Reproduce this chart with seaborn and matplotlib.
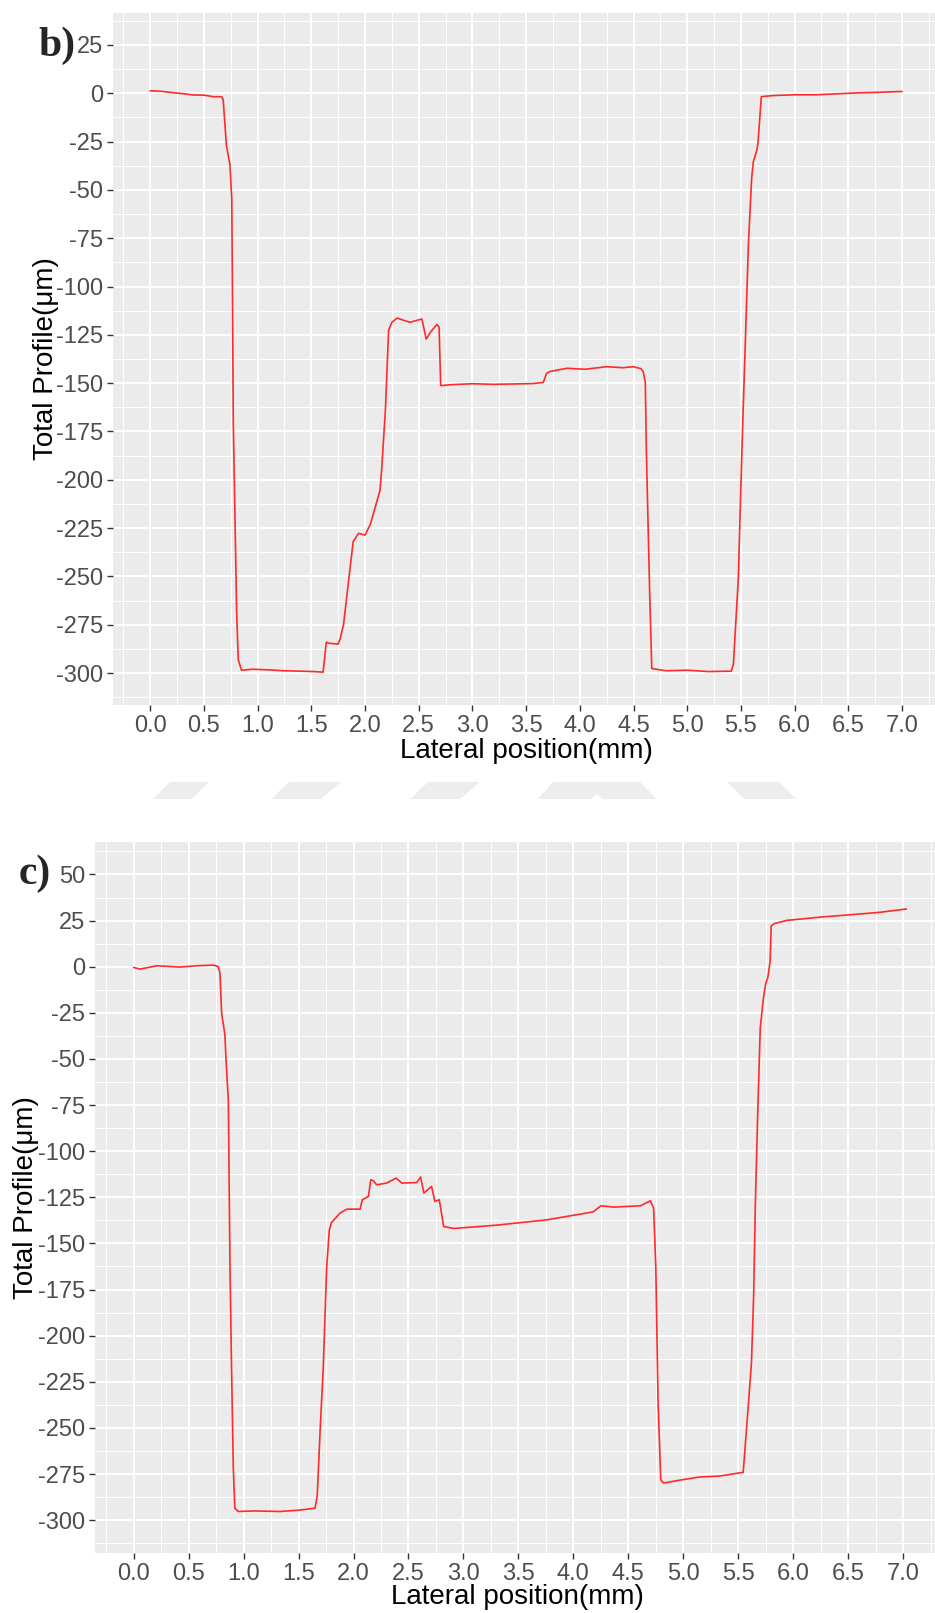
import numpy as np
import pandas as pd
import matplotlib
matplotlib.use("Agg")
import matplotlib.pyplot as plt
from matplotlib.ticker import MultipleLocator
from matplotlib.patches import Polygon
import seaborn as sns

# profile b) - lateral position (mm) vs total profile (um)
x_b = [0.00, 0.10, 0.21, 0.30, 0.40, 0.50, 0.59, 0.665, 0.68, 0.71,
       0.743, 0.76, 0.774, 0.805, 0.82, 0.85, 0.95, 1.10, 1.25, 1.40,
       1.52, 1.61, 1.64, 1.66, 1.75, 1.77, 1.80, 1.89, 1.94, 2.00,
       2.05, 2.14, 2.155, 2.19, 2.22, 2.25, 2.30, 2.36, 2.42, 2.53,
       2.57, 2.61, 2.67, 2.69, 2.705, 2.80, 3.00, 3.20, 3.40, 3.57,
       3.66, 3.69, 3.72, 3.88, 4.05, 4.25, 4.40, 4.50, 4.57, 4.59,
       4.61, 4.62, 4.65, 4.67, 4.80, 5.00, 5.20, 5.41, 5.43, 5.476,
       5.51, 5.54, 5.57, 5.60, 5.615, 5.65, 5.66, 5.69, 5.80, 6.00,
       6.20, 6.40, 6.60, 6.80, 7.00]
y_b = [1.3, 1.0, 0.3, -0.2, -0.9, -1.0, -1.8, -1.8, -3.5, -27,
       -37, -55, -170, -268, -293, -298.5, -298, -298.3, -298.8, -299,
       -299.2, -299.5, -284, -284.5, -285, -282, -275, -232, -227.7, -228.6,
       -223, -205.5, -195, -164, -122.7, -118.5, -116.3, -117.5, -118.5, -116.8,
       -127.2, -123.6, -119.6, -121, -151.3, -150.8, -150.3, -150.6, -150.4, -150.2,
       -149.6, -145, -144, -142.3, -142.8, -141.5, -142, -141.5, -142.5, -144,
       -149.6, -185.6, -257.4, -297.6, -298.8, -298.5, -299.2, -299, -295.4, -251,
       -183.5, -130.6, -77.8, -44, -35.6, -29.2, -25, -1.8, -1.2, -0.8,
       -0.8, -0.3, 0.2, 0.5, 0.9]

# profile c)
x_c = [0.00, 0.057, 0.21, 0.42, 0.57, 0.725, 0.77, 0.785, 0.80, 0.83,
       0.84, 0.861, 0.876, 0.89, 0.906, 0.92, 0.95, 1.10, 1.33, 1.50,
       1.65, 1.67, 1.695, 1.725, 1.756, 1.78, 1.80, 1.85, 1.876, 1.94,
       2.06, 2.08, 2.135, 2.157, 2.18, 2.21, 2.30, 2.387, 2.44, 2.575,
       2.61, 2.64, 2.71, 2.74, 2.78, 2.82, 2.91, 3.30, 3.76, 4.18,
       4.25, 4.37, 4.61, 4.70, 4.73, 4.75, 4.77, 4.795, 4.82, 4.97,
       5.15, 5.33, 5.53, 5.545, 5.59, 5.62, 5.64, 5.655, 5.676, 5.70,
       5.73, 5.75, 5.77, 5.79, 5.80, 5.83, 5.94, 6.27, 6.55, 6.79,
       7.03]
y_c = [-0.4, -1.3, 0.5, -0.2, 0.5, 0.9, 0.0, -3.5, -25.2, -36.9,
       -50.5, -72.1, -162.5, -216.7, -270.9, -293.4, -295.3, -295.0, -295.3, -294.6,
       -293.5, -286.6, -252.8, -216.7, -162.5, -142.6, -138.6, -135.4, -133.6, -131.4,
       -131.4, -126.3, -124.5, -115.5, -116, -118.2, -117.3, -114.6, -117.3, -117,
       -114, -122.7, -119.1, -127.3, -126.3, -140.8, -141.9, -140.1, -137.2, -132.9,
       -129.6, -130.3, -129.6, -126.9, -130.8, -162.5, -234.7, -278.1, -279.9, -278.3,
       -276.6, -276.1, -274.2, -274.2, -239, -214.9, -178.6, -130, -81.8, -33.4,
       -16.5, -9.2, -5.6, 2.9, 22.2, 23.4, 25.1, 27, 28.3, 29.5,
       31.3]

x_ticks = [0.0, 0.5, 1.0, 1.5, 2.0, 2.5, 3.0, 3.5, 4.0, 4.5, 5.0, 5.5, 6.0, 6.5, 7.0]
y_ticks_b = list(range(-300, 26, 25))
y_ticks_c = list(range(-300, 51, 25))

sns.set_theme(style="darkgrid")
plt.rcParams["font.family"] = ["Liberation Sans", "DejaVu Sans"]

W, H = 935, 1613
fig = plt.figure(figsize=(W / 100, H / 100), dpi=100)
fig.patch.set_facecolor("white")


def px_axes(left, top, right, bottom):
    return fig.add_axes([left / W, 1 - bottom / H, (right - left) / W, (bottom - top) / H])


def style_panel(ax, df, xlim, ylim, yticks, ylab_x, xlab_y):
    sns.lineplot(data=df, x="pos", y="prof", ax=ax, color="#FF2A2A",
                 linewidth=1.2, sort=False, estimator=None)
    ax.set_facecolor("#EBEBEB")
    for s in ax.spines.values():
        s.set_visible(False)
    ax.set_xlim(*xlim)
    ax.set_ylim(*ylim)
    ax.set_xticks(x_ticks)
    ax.set_xticklabels([f"{t:.1f}" for t in x_ticks])
    ax.set_yticks(yticks)
    ax.set_yticklabels([str(t) for t in yticks])
    ax.xaxis.set_minor_locator(MultipleLocator(0.25))
    ax.yaxis.set_minor_locator(MultipleLocator(12.5))
    ax.grid(which="major", color="white", linewidth=1.4)
    ax.grid(which="minor", color="white", linewidth=0.7)
    ax.tick_params(which="major", length=4, width=1, color="#333333",
                   labelcolor="#4D4D4D", labelsize=17, pad=3,
                   bottom=True, left=True)
    ax.tick_params(which="minor", length=0)
    ax.set_xlabel("Lateral position(mm)", fontsize=20, color="black")
    ax.set_ylabel("Total Profile(μm)", fontsize=20, color="black")
    ax.xaxis.label.set_va("center")
    ax.yaxis.label.set_va("center")
    ax.xaxis.set_label_coords(0.503, xlab_y)
    ax.yaxis.set_label_coords(ylab_x, 0.5)


df_b = pd.DataFrame({"pos": x_b, "prof": y_b})
df_c = pd.DataFrame({"pos": x_c, "prof": y_c})

ax1 = px_axes(113, 13, 935, 705)
style_panel(ax1, df_b, (-0.346, 7.307), (-316.5, 41.5), y_ticks_b, -0.082, -0.066)

ax2 = px_axes(95, 842, 935, 1553)
style_panel(ax2, df_c, (-0.352, 7.29), (-317.8, 67.6), y_ticks_c, -0.082, -0.062)

# panel letters
fig.text(38 / W, 1 - 46 / H, "b)", family=["Liberation Serif", "DejaVu Serif"],
         fontweight="bold", fontsize=30, va="center", ha="left")
fig.text(19 / W, 1 - 874 / H, "c)", family=["Liberation Serif", "DejaVu Serif"],
         fontweight="bold", fontsize=30, va="center", ha="left")

# faint watermark strip between the panels
wm_top, wm_bot = 782, 799
shapes = [
    [(153, wm_bot), (170, wm_top), (209, wm_top), (192, wm_bot)],
    [(271, wm_bot), (289, wm_top), (341, wm_top), (321, wm_bot)],
    [(410, wm_bot), (428, wm_top), (480, wm_top), (460, wm_bot)],
    [(538, wm_bot), (553, wm_top), (640, wm_top), (657, wm_bot),
     (603, wm_bot), (597, wm_bot - 5), (591, wm_bot)],
    [(744, wm_bot), (727, wm_top), (779, wm_top), (796, wm_bot)],
]
for pts in shapes:
    fig.patches.append(Polygon([(px / W, 1 - py / H) for px, py in pts],
                               closed=True, transform=fig.transFigure,
                               facecolor="#EDEDED", edgecolor="none"))

fig.savefig("out.png", dpi=100)
